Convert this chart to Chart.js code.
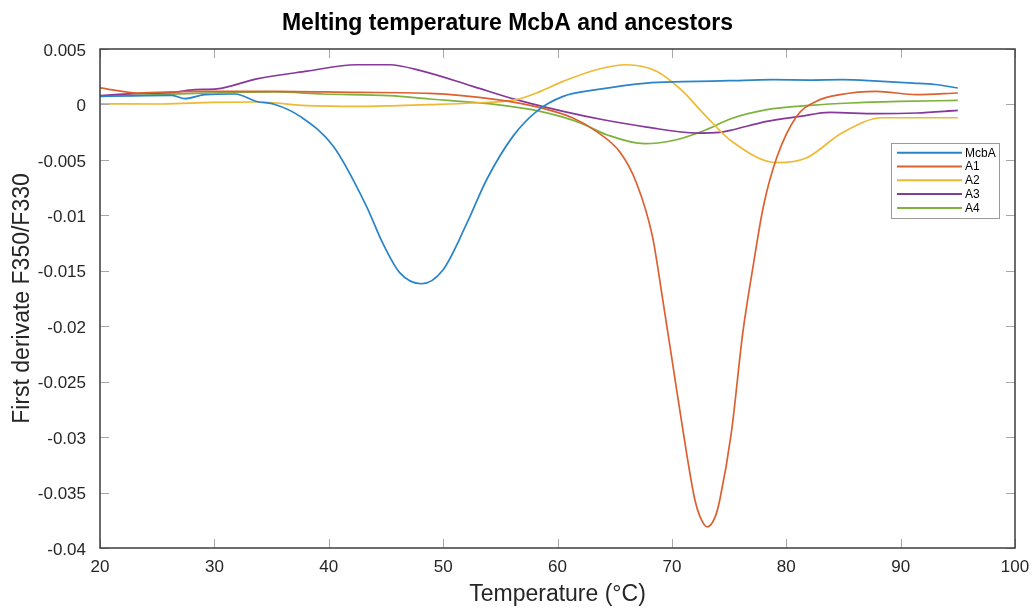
<!DOCTYPE html>
<html>
<head>
<meta charset="utf-8">
<title>Melting temperature McbA and ancestors</title>
<script src="https://cdn.jsdelivr.net/npm/chart.js@4.4.1/dist/chart.umd.min.js"></script>
<style>
    html, body { margin: 0; padding: 0; background: #fff; }
    #wrap { width: 1035px; height: 613px; }
</style>
</head>
<body>
<div id="wrap"><canvas id="tmChart" width="1035" height="613"></canvas></div>
<script>
// temperatures (°C) and first derivative F350/F330 for each protein
const mcbaTemp = [20, 22, 24, 26.3, 27.4, 29.2, 31.8, 33.7, 35.3, 37.5, 40.4, 43.3, 44.7, 46.2, 48.1, 50.0, 52.1, 53.8, 56.1, 58.2, 60.5, 63.4, 67.8, 71, 75.0, 78.8, 82, 84.9, 88, 91.1, 93, 95];
const mcbaValue = [0.00073, 0.00076, 0.0008, 0.00082, 0.00052, 0.00088, 0.00094, 0.00027, 0.0, -0.00108, -0.00378, -0.00919, -0.01247, -0.01517, -0.01617, -0.0149, -0.01066, -0.00679, -0.00288, -0.0006, 0.00073, 0.00133, 0.00193, 0.00205, 0.00214, 0.00223, 0.0022, 0.00223, 0.0021, 0.00193, 0.0018, 0.00148];

const a1Temp = [20, 23.3, 28.3, 35.3, 42.5, 48.8, 54.7, 58.5, 61.3, 63.4, 65.5, 66.9, 68.3, 69.2, 70.1, 71.0, 72.0, 72.45, 73.1, 73.8, 74.2, 75.2, 76.2, 77.1, 78.0, 79.2, 80.9, 82.6, 84.7, 87.9, 91.4, 95];
const a1Value = [0.0015, 0.00103, 0.00118, 0.00118, 0.00109, 0.001, 0.00043, -0.0003, -0.0012, -0.00243, -0.00435, -0.00706, -0.0119, -0.0176, -0.0236, -0.0296, -0.0356, -0.03715, -0.0381, -0.03715, -0.0356, -0.0296, -0.0206, -0.0146, -0.0092, -0.0047, -0.00108, 0.00027, 0.00088, 0.00118, 0.00088, 0.00103];

const a2Temp = [20, 25.4, 29.8, 33.7, 38.1, 42.5, 46, 48.8, 52.6, 56.4, 58.5, 60.5, 63.4, 66.0, 68.7, 70.8, 73.0, 75.2, 79.2, 81.8, 84.9, 88.4, 91.5, 95];
const a2Value = [0.00005, 0.00004, 0.00018, 0.00022, -0.00011, -0.00018, -0.0001, -0.00002, 0.00013, 0.00043, 0.00118, 0.00208, 0.00313, 0.00358, 0.00298, 0.00133, -0.00108, -0.0033, -0.00525, -0.0048, -0.00255, -0.0012, -0.0012, -0.0012];

const a3Temp = [20, 23, 26.4, 28.3, 30.2, 33.7, 38.1, 42.4, 45.3, 48.2, 52.6, 56.4, 60.5, 64.0, 67.8, 72.2, 74.2, 75.1, 78.3, 81.2, 83.8, 87.9, 91.4, 95];
const a3Value = [0.0008, 0.00097, 0.00109, 0.00133, 0.0014, 0.0023, 0.003, 0.00358, 0.00358, 0.003, 0.00163, 0.00043, -0.00063, -0.00138, -0.00204, -0.00258, -0.00252, -0.00234, -0.00153, -0.00108, -0.00072, -0.00083, -0.00077, -0.00054];

const a4Temp = [20, 24, 28.3, 35.3, 39.5, 45.3, 48.8, 50.7, 54.7, 58.5, 62.0, 64.3, 67.6, 70.4, 73.0, 75.1, 78.3, 82.1, 85.6, 89.9, 95];
const a4Value = [0.00073, 0.00085, 0.001, 0.00112, 0.00094, 0.00079, 0.00049, 0.00034, -0.00002, -0.00063, -0.00167, -0.00273, -0.00354, -0.00318, -0.00228, -0.00131, -0.00047, -0.00009, 0.00013, 0.00027, 0.00036];

const seriesNames = ['McbA', 'A1', 'A2', 'A3', 'A4'];
const xTicks = [20, 30, 40, 50, 60, 70, 80, 90, 100];
const yTicks = [0.005, 0, -0.005, -0.01, -0.015, -0.02, -0.025, -0.03, -0.035, -0.04];
const yTickLabels = ['0.005', '0', '-0.005', '-0.01', '-0.015', '-0.02', '-0.025', '-0.03', '-0.035', '-0.04'];

const lineColors = ['#2a84c9', '#dc6130', '#eeb934', '#86399a', '#7db23c'];
const FONT = '"Liberation Sans", Arial, Helvetica, sans-serif';

function toPoints(xs, ys) {
    return xs.map((x, i) => ({ x: x, y: ys[i] }));
}

const allSeries = [
    toPoints(mcbaTemp, mcbaValue),
    toPoints(a1Temp, a1Value),
    toPoints(a2Temp, a2Value),
    toPoints(a3Temp, a3Value),
    toPoints(a4Temp, a4Value)
];

// box around the axes with ticks pointing inwards, plus the small legend
const axesBox = {
    id: 'axesBox',
    afterDraw(chart) {
        const { ctx, chartArea: a, scales } = chart;
        const tickLen = 9;
        ctx.save();

        ctx.strokeStyle = '#a8a8a8';
        ctx.lineWidth = 1;
        ctx.beginPath();
        scales.x.ticks.forEach(t => {
            const px = Math.round(scales.x.getPixelForValue(t.value)) + 0.5;
            ctx.moveTo(px, a.bottom); ctx.lineTo(px, a.bottom - tickLen);
            ctx.moveTo(px, a.top); ctx.lineTo(px, a.top + tickLen);
        });
        scales.y.ticks.forEach(t => {
            const py = Math.round(scales.y.getPixelForValue(t.value)) + 0.5;
            ctx.moveTo(a.left, py); ctx.lineTo(a.left + tickLen, py);
            ctx.moveTo(a.right, py); ctx.lineTo(a.right - tickLen, py);
        });
        ctx.stroke();

        ctx.strokeStyle = '#3c3c3c';
        ctx.lineWidth = 1.5;
        ctx.strokeRect(a.left, a.top, a.right - a.left, a.bottom - a.top);

        // legend
        const lx = 891, ly = 143, lw = 108, lh = 75, row = 13.8;
        ctx.fillStyle = '#fff';
        ctx.fillRect(lx, ly, lw, lh);
        ctx.strokeStyle = '#9a9a9a';
        ctx.lineWidth = 1;
        ctx.strokeRect(lx + 0.5, ly + 0.5, lw, lh);
        ctx.font = '12px ' + FONT;
        ctx.textBaseline = 'middle';
        ctx.textAlign = 'left';
        chart.data.datasets.forEach((ds, i) => {
            const y = ly + 9.7 + i * row;
            ctx.strokeStyle = ds.borderColor;
            ctx.lineWidth = 2;
            ctx.beginPath();
            ctx.moveTo(lx + 6, y); ctx.lineTo(lx + 71, y);
            ctx.stroke();
            ctx.fillStyle = '#000';
            ctx.fillText(ds.label, lx + 74, y + 0.5);
        });
        ctx.restore();
    }
};

const chart = new Chart(document.getElementById('tmChart'), {
    type: 'line',
    data: {
        datasets: allSeries.map((pts, i) => ({
            label: seriesNames[i],
            data: pts,
            borderColor: lineColors[i],
            backgroundColor: lineColors[i],
            borderWidth: 1.7,
            pointRadius: 0,
            cubicInterpolationMode: 'monotone',
            fill: false
        }))
    },
    options: {
        responsive: false,
        animation: false,
        layout: { padding: { left: 0, right: 20, top: 0, bottom: 0 } },
        plugins: {
            legend: { display: false },
            tooltip: { enabled: false },
            title: {
                display: true,
                text: 'Melting temperature McbA and ancestors',
                color: '#000',
                font: { family: FONT, size: 23, weight: 'bold', lineHeight: 1.2 },
                padding: { top: 10, bottom: 11.4 }
            }
        },
        scales: {
            x: {
                type: 'linear',
                min: 20,
                max: 100,
                afterBuildTicks: s => { s.ticks = xTicks.map(v => ({ value: v })); },
                afterFit: s => { s.height = 65; s.paddingRight = 0; s.paddingLeft = 0; },
                grid: { display: false, drawTicks: false },
                border: { display: false },
                ticks: {
                    padding: 9,
                    color: '#262626',
                    font: { family: FONT, size: 17 },
                    maxRotation: 0
                },
                title: {
                    display: true,
                    text: 'Temperature (°C)',
                    color: '#262626',
                    font: { family: FONT, size: 23, lineHeight: 1.2 },
                    padding: { top: 0, bottom: 5 }
                }
            },
            y: {
                type: 'linear',
                min: -0.04,
                max: 0.005,
                afterBuildTicks: s => { s.ticks = yTicks.map(v => ({ value: v })); },
                afterFit: s => { s.width = 100; },
                grid: { display: false, drawTicks: false },
                border: { display: false },
                ticks: {
                    padding: 14,
                    labelOffset: 2,
                    color: '#262626',
                    font: { family: FONT, size: 17 },
                    callback: v => yTickLabels[yTicks.indexOf(v)]
                },
                title: {
                    display: true,
                    text: 'First derivate F350/F330',
                    color: '#262626',
                    font: { family: FONT, size: 23, lineHeight: 1.2 },
                    padding: { top: 9, bottom: 0 }
                }
            }
        }
    },
    plugins: [axesBox]
});
</script>
</body>
</html>
